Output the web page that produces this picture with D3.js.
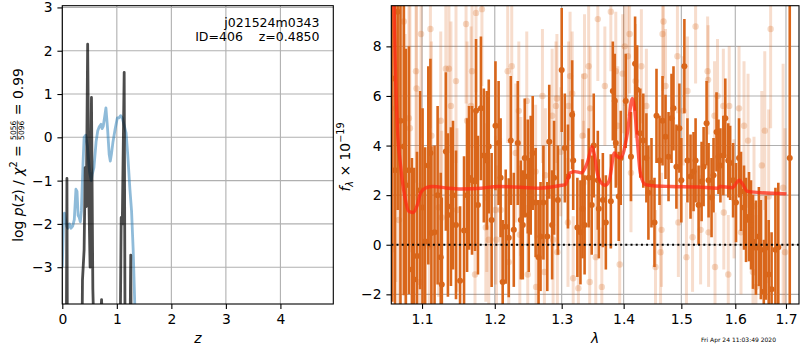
<!DOCTYPE html>
<html>
<head>
<meta charset="utf-8">
<script src="https://cdn.jsdelivr.net/npm/d3@7"></script>
<style>
body { margin: 0; background: #fff; }
svg text { font-family: "DejaVu Sans", sans-serif; white-space: pre; }
</style>
</head>
<body>
<svg id="chart" width="800" height="350"></svg>
<script>
// p(z) panel: [z, value]
const pzChi2 = [
    [0.00, -3.0], [0.02, -2.0], [0.04, -1.75], [0.06, -1.9], [0.08, -2.05], [0.10, -2.1],
    [0.13, -2.0], [0.16, -2.1], [0.19, -2.05], [0.22, -1.9], [0.25, -1.2], [0.27, -1.25],
    [0.29, -1.8], [0.31, -1.85], [0.33, -1.95], [0.35, -1.7], [0.38, -0.6], [0.40, 0.0],
    [0.43, 0.05], [0.46, -0.2], [0.50, -0.8], [0.53, -1.0], [0.55, -0.85], [0.58, -0.7],
    [0.62, -0.1], [0.65, 0.15], [0.68, 0.25], [0.71, 0.3], [0.73, 0.2], [0.75, 0.25],
    [0.78, 0.5], [0.80, 0.68], [0.83, 0.2], [0.86, -0.4], [0.88, -0.55], [0.90, -0.4],
    [0.93, -0.1], [0.97, 0.2], [1.01, 0.45], [1.04, 0.45], [1.07, 0.5], [1.10, 0.45],
    [1.13, 0.3], [1.17, 0.1], [1.20, -0.4], [1.24, -1.2], [1.27, -1.7], [1.30, -2.6], [1.33, -3.9]
];
const pzLog = [
    [0.00, -8], [0.065, -8], [0.085, -0.95], [0.10, -8], [0.34, -8], [0.37, -3.3], [0.40, -2.6],
    [0.42, -0.7], [0.44, -1.6], [0.465, 2.15], [0.49, -1.6], [0.51, -3.0], [0.535, 0.92],
    [0.56, -3.5], [0.58, -4.5], [0.66, -5], [0.72, -3.75], [0.76, -5], [1.04, -8], [1.08, -1.85],
    [1.10, -2.0], [1.135, 1.5], [1.16, -8], [1.22, -8], [1.255, -2.72], [1.28, -8], [4.97, -8]
];
const zTicks = [0, 1, 2, 3, 4];
const pzTicks = [-3, -2, -1, 0, 1, 2, 3];

// spectrum panel
const lamTicks = [1.1, 1.2, 1.3, 1.4, 1.5, 1.6, 1.7];
const fluxTicks = [-2, 0, 2, 4, 6, 8];

// model: [lambda, flux]
const modelLine = [
    [1.0600, 12], [1.0637, 9.8], [1.0654, 7.2], [1.0680, 4.75], [1.0723, 3.15], [1.0775, 1.95],
    [1.0826, 1.35], [1.0882, 1.3], [1.0938, 1.6], [1.0983, 2.1], [1.1057, 2.3], [1.1146, 2.35],
    [1.1348, 2.28], [1.1526, 2.25], [1.1806, 2.28], [1.2048, 2.35], [1.2489, 2.3], [1.2640, 2.28],
    [1.3008, 2.4], [1.3055, 2.42], [1.3133, 2.9], [1.3212, 2.95], [1.3307, 2.9], [1.3403, 3.3],
    [1.3484, 3.95], [1.3520, 3.6], [1.3565, 2.9], [1.3614, 2.55], [1.3696, 2.4], [1.3762, 2.6],
    [1.3845, 3.7], [1.3878, 3.6], [1.3944, 3.5], [1.3994, 3.7], [1.4062, 4.5], [1.4146, 5.9],
    [1.4180, 5.56], [1.4231, 4.2], [1.4282, 2.9], [1.4368, 2.42], [1.4489, 2.38], [1.4805, 2.35],
    [1.5291, 2.33], [1.5662, 2.28], [1.5718, 2.35], [1.5812, 2.33], [1.5947, 2.3], [1.6043, 2.55],
    [1.6081, 2.6], [1.6139, 2.45], [1.6236, 2.15], [1.6490, 2.1], [1.7010, 2.05]
];

// [lambda, flux, error]
const darkPoints = [
    [1.0615, 6.7, 9], [1.0650, 3.0, 9], [1.0684, 9.4, 8], [1.0720, 5.0, 8], [1.0763, 3.96, 6],
    [1.0789, 2.4, 5.5], [1.0829, 3.0, 5], [1.0868, -1.0, 4.5], [1.0895, -1.4, 4.5], [1.0934, -0.45, 4.2],
    [1.0974, 2.2, 4], [1.1007, 1.5, 4], [1.1041, 0.13, 3.8], [1.1083, 3.2, 4], [1.1111, 3.7, 3.8],
    [1.1124, 0.47, 3.5], [1.1166, 0.5, 3.5], [1.1207, 2.0, 3.6], [1.1249, -0.5, 3.4], [1.1263, -1.6, 3.5],
    [1.1318, 3.76, 3.2], [1.1346, 1.2, 3.3], [1.1387, 1.54, 3.2], [1.1415, 2.0, 3.0], [1.1456, 0.8, 3.0],
    [1.1512, -1.45, 3.0], [1.1567, 0.57, 3.0], [1.1609, 2.0, 3.1], [1.1636, 2.7, 2.9], [1.1678, 2.6, 3.0],
    [1.1720, 2.55, 2.8], [1.1734, 5.4, 2.9], [1.1761, 1.6, 2.8], [1.1803, 5.5, 2.9], [1.1844, 3.6, 2.7],
    [1.1886, 3.4, 2.8], [1.1914, 3.96, 2.7], [1.1955, 1.0, 2.7], [1.2010, 4.8, 2.6],
    [1.2055, 4.1, 2.5], [1.2084, 2.7, 2.4], [1.2114, -1.5, 2.5], [1.2158, 0.73, 2.3], [1.2202, 0.28, 2.4],
    [1.2232, 4.2, 2.6], [1.2276, 0.6, 2.3], [1.2335, 4.1, 2.5], [1.2380, 1.0, 2.4], [1.2409, 0.8, 2.2],
    [1.2438, 3.5, 2.4], [1.2483, 2.75, 2.3], [1.2498, 1.2, 2.3], [1.2527, 2.8, 2.4], [1.2557, 3.7, 2.3],
    [1.2601, 1.7, 2.2], [1.2645, -0.5, 2.3], [1.2675, 0.33, 2.2], [1.2719, 1.7, 2.3], [1.2778, 0.33, 2.2],
    [1.2808, 4.15, 2.3], [1.2852, 0.8, 2.2], [1.2882, 2.7, 2.3], [1.2941, 1.8, 2.2], [1.3000, 7.05, 2.5],
    [1.3049, 3.9, 2.2], [1.3098, 2.75, 2.1], [1.3164, 5.24, 2.2], [1.3180, 3.4, 2.0], [1.3246, 0.7, 2.0],
    [1.3295, 0.5, 2.1], [1.3328, 1.45, 2.0], [1.3361, 0.8, 2.0], [1.3426, 2.7, 2.0], [1.3475, 1.6, 2.0],
    [1.3508, 4.0, 2.1], [1.3574, 2.6, 2.0], [1.3590, 1.45, 2.0],
    [1.3656, 1.8, 1.9], [1.3705, 0.9, 1.9], [1.3787, 1.75, 1.9], [1.3820, 6.2, 2.0], [1.3852, 5.8, 1.9],
    [1.3869, 4.1, 1.8], [1.3918, 1.95, 1.8], [1.3951, 3.5, 1.9], [1.4035, 5.8, 1.9], [1.4123, 3.55, 1.8],
    [1.4193, 7.3, 1.9], [1.4228, 6.25, 1.8], [1.4281, 4.5, 1.8], [1.4333, 4.2, 1.9], [1.4386, 3.5, 1.8],
    [1.4421, 2.1, 1.9], [1.4474, 2.5, 1.8], [1.4526, 0.9, 1.8], [1.4561, 5.2, 1.9], [1.4614, 3.4, 1.8],
    [1.4667, 5.0, 1.8], [1.4719, 4.35, 1.7], [1.4772, 3.55, 1.8], [1.4825, 5.1, 1.8], [1.4860, 5.5, 1.7],
    [1.4912, 3.15, 1.7], [1.4965, 4.7, 1.8], [1.5000, 2.6, 1.7], [1.5055, 7.2, 1.9], [1.5110, 3.4, 1.7],
    [1.5166, 2.75, 1.7], [1.5221, 2.95, 1.6], [1.5258, 3.4, 1.7], [1.5313, 1.6, 1.6], [1.5368, 2.55, 1.6],
    [1.5405, 3.15, 1.6], [1.5460, 4.9, 1.7], [1.5497, 2.6, 1.5], [1.5552, 1.9, 1.6], [1.5589, 2.8, 1.5],
    [1.5645, 4.55, 1.6], [1.5681, 3.55, 1.5], [1.5718, 3.2, 1.5], [1.5773, 3.6, 1.6], [1.5810, 5.1, 1.6],
    [1.5866, 3.4, 1.5], [1.5902, 3.3, 1.5], [1.5958, 2.6, 1.5], [1.6014, 1.7, 1.6], [1.6072, 3.5, 1.6],
    [1.6110, 2.15, 1.6], [1.6168, 1.5, 1.7], [1.6207, 1.0, 1.7], [1.6265, 1.13, 1.8], [1.6304, 0.8, 1.8],
    [1.6342, 0.12, 1.9], [1.6400, -0.12, 1.9], [1.6458, 0.33, 2.0], [1.6497, -0.2, 2.0], [1.6555, -1.9, 2.1],
    [1.6594, -0.12, 2.1], [1.6652, -1.2, 2.2], [1.6710, -1.8, 2.3], [1.6787, -0.2, 2.5], [1.6845, -0.1, 2.6],
    [1.7077, 3.5, 7.0]
];
const lightPoints = [
    [1.0600, 3.0, 8], [1.0618, 6.7, 7], [1.0660, 5.5, 7], [1.0700, 1.0, 7], [1.0763, 9.0, 6],
    [1.0780, 2.5, 6], [1.0829, 5.1, 5], [1.0842, 4.7, 5], [1.0921, 7.0, 4.5], [1.0928, 6.3, 4.5],
    [1.0974, -1.5, 4], [1.0987, 8.5, 4.2], [1.1097, -0.08, 4], [1.1111, 8.7, 4], [1.1124, 4.4, 3.8],
    [1.1221, 1.5, 3.6], [1.1249, 5.0, 3.6], [1.1263, 1.1, 3.5], [1.1318, 7.1, 3.5], [1.1360, 7.1, 3.4],
    [1.1387, 5.6, 3.4], [1.1456, 6.6, 3.3], [1.1470, 1.4, 3.3], [1.1595, 8.9, 3.2], [1.1609, 5.0, 3.2],
    [1.1664, 5.6, 3.2], [1.1678, 7.0, 3.1], [1.1720, -1.2, 3.1], [1.1734, 9.35, 3.2], [1.1817, 9.5, 3.1],
    [1.1872, 0.7, 3.0], [1.1886, 1.9, 3.0], [1.1914, 0.2, 3.0], [1.2010, 1.4, 3.0], [1.2025, 0.2, 3.0],
    [1.2084, 1.4, 2.9], [1.2187, 7.0, 2.9], [1.2202, -0.7, 2.9], [1.2246, 7.2, 2.9], [1.2305, 3.7, 2.8],
    [1.2350, 5.4, 2.8], [1.2365, 0.4, 2.8], [1.2380, 2.35, 2.8], [1.2468, 5.8, 2.8], [1.2483, -1.2, 2.8],
    [1.2601, 2.95, 2.7], [1.2608, -1.7, 2.7], [1.2704, 6.0, 2.7], [1.2734, -1.1, 2.7], [1.2749, 2.8, 2.7],
    [1.2852, 5.2, 2.7], [1.2867, 0.2, 2.6], [1.2911, 5.6, 2.6], [1.2926, 5.9, 2.6], [1.2933, -0.3, 2.6],
    [1.2985, 3.75, 2.6], [1.3098, 0.9, 2.6], [1.3107, 5.6, 2.6], [1.3131, 6.8, 2.6], [1.3164, 6.1, 2.5],
    [1.3180, -1.35, 2.5], [1.3262, -1.75, 2.5], [1.3328, 4.4, 2.5], [1.3344, 2.5, 2.5], [1.3360, 6.8, 2.5],
    [1.3426, 7.2, 2.5], [1.3443, -1.5, 2.5], [1.3450, 5.5, 2.5], [1.3541, -0.5, 2.5], [1.3574, 9.1, 2.5],
    [1.3639, -1.7, 2.4], [1.3689, 6.4, 2.4], [1.3787, 9.4, 2.4], [1.3869, 7.0, 2.4], [1.3902, 4.8, 2.4],
    [1.3934, -0.8, 2.4], [1.3984, 6.9, 2.4], [1.4018, 8.0, 2.4], [1.4070, 7.6, 2.4], [1.4100, 8.5, 2.4],
    [1.4123, 2.9, 2.4], [1.4200, 6.6, 2.3], [1.4300, 7.2, 2.3], [1.4386, 5.6, 2.3], [1.4544, -0.9, 2.3],
    [1.4632, -0.3, 2.3], [1.4649, 0.6, 2.3], [1.4667, 8.5, 2.3], [1.4684, 9.0, 2.3], [1.4719, 6.4, 2.3],
    [1.4930, 7.6, 2.3], [1.4947, 0.9, 2.2], [1.5037, 5.4, 2.2], [1.5092, -0.5, 2.2], [1.5110, 6.2, 2.2],
    [1.5203, 0.3, 2.2], [1.5258, 8.8, 2.3], [1.5350, 0.6, 2.2], [1.5479, 7.0, 2.2], [1.5488, 6.65, 2.2],
    [1.5497, 0.5, 2.2], [1.5608, 5.2, 2.2], [1.5617, -0.9, 2.2], [1.5663, 6.0, 2.3], [1.5773, 5.6, 2.3],
    [1.5782, 1.3, 2.3], [1.5866, -1.2, 2.4], [1.5884, 5.6, 2.4], [1.5976, 1.85, 2.4], [1.6072, 5.5, 2.5],
    [1.6110, 0.5, 2.5], [1.6168, 4.8, 2.6], [1.6246, 4.2, 2.7], [1.6342, -1.1, 2.8], [1.6362, 1.55, 2.8],
    [1.6400, -1.7, 2.9], [1.6516, 3.2, 3.0], [1.6574, 4.6, 3.2], [1.6652, 1.95, 3.5], [1.6691, 8.7, 4.0],
    [1.6942, 2.3, 5], [1.6981, -0.3, 5]
];

const svg = d3.select("#chart");
const fs = 13.9;
const gridColor = "#b0b0b0";
const orange = "#d9661a";

// grid lines at the tick positions
function drawGrid(g, x, y, xTicks, yTicks, box) {
    xTicks.forEach(t => g.append("line")
        .attr("x1", x(t)).attr("x2", x(t)).attr("y1", box.top).attr("y2", box.bottom)
        .attr("stroke", gridColor).attr("stroke-width", 1.1));
    yTicks.forEach(t => g.append("line")
        .attr("x1", box.left).attr("x2", box.right).attr("y1", y(t)).attr("y2", y(t))
        .attr("stroke", gridColor).attr("stroke-width", 1.1));
}

function drawAxes(g, x, y, xTicks, yTicks, xFmt, yFmt, box) {
    let ax = g.append("g").attr("transform", "translate(0," + box.bottom + ")")
        .call(d3.axisBottom(x).tickValues(xTicks).tickFormat(xFmt).tickSize(4.9).tickPadding(4.9));
    let ay = g.append("g").attr("transform", "translate(" + box.left + ",0)")
        .call(d3.axisLeft(y).tickValues(yTicks).tickFormat(yFmt).tickSize(4.9).tickPadding(4.9));
    [ax, ay].forEach(a => {
        a.select(".domain").remove();
        a.attr("font-size", fs).attr("font-family", "DejaVu Sans");
        a.selectAll("line").attr("stroke-width", 1.1);
    });
    g.append("rect")
        .attr("x", box.left).attr("y", box.top)
        .attr("width", box.right - box.left).attr("height", box.bottom - box.top)
        .attr("fill", "none").attr("stroke", "#000").attr("stroke-width", 1.1);
}

function addClip(id, box) {
    svg.append("clipPath").attr("id", id).append("rect")
        .attr("x", box.left).attr("y", box.top)
        .attr("width", box.right - box.left).attr("height", box.bottom - box.top);
}

// text pieces laid out one after another, returns end x
function richText(g, parts) {
    let x = 0;
    parts.forEach(p => {
        let t = g.append("text").attr("x", x).attr("y", p.dy || 0)
            .attr("font-size", p.size || fs)
            .attr("font-style", p.it ? "italic" : "normal")
            .text(p.t);
        x += t.node().getComputedTextLength();
    });
    return x;
}

// ---------- left panel: p(z) ----------
const boxL = { left: 62.3, right: 333.3, top: 5.7, bottom: 304 };
const xL = d3.scaleLinear().domain([0, 4.97]).range([boxL.left, boxL.right]);
const yL = d3.scaleLinear().domain([-3.85, 3.04]).range([boxL.bottom, boxL.top]);
const gL = svg.append("g");
addClip("clipL", boxL);
drawGrid(gL, xL, yL, zTicks, pzTicks, boxL);

const lineL = d3.line().x(d => xL(d[0])).y(d => yL(d[1]));
const dataL = gL.append("g").attr("clip-path", "url(#clipL)");
dataL.append("path").datum(pzChi2).attr("d", lineL)
    .attr("fill", "none").attr("stroke", "#1f77b4").attr("stroke-opacity", 0.5)
    .attr("stroke-width", 2.8).attr("stroke-linejoin", "round");
dataL.append("path").datum(pzLog).attr("d", lineL)
    .attr("fill", "none").attr("stroke", "#000").attr("stroke-opacity", 0.7)
    .attr("stroke-width", 2.8).attr("stroke-linejoin", "round");

drawAxes(gL, xL, yL, zTicks, pzTicks, d3.format("d"), d3.format("d"), boxL);

gL.append("text").attr("x", 319.5).attr("y", 26.5).attr("text-anchor", "end")
    .attr("font-size", 12.5).text("j021524m0343");
gL.append("text").attr("x", 319.5).attr("y", 41).attr("text-anchor", "end")
    .attr("font-size", 12.5).text("ID=406    z=0.4850");
gL.append("text").attr("x", (boxL.left + boxL.right) / 2).attr("y", 343)
    .attr("text-anchor", "middle").attr("font-size", fs).attr("font-style", "italic").text("z");

// y label with fraction
const labL = svg.append("g").attr("transform", "translate(22.5,155) rotate(-90)");
const labLi = labL.append("g");
let xx = richText(labLi, [
    { t: "log " }, { t: "p", it: true }, { t: "(" }, { t: "z", it: true }, { t: ") / " },
    { t: "χ", it: true }, { t: "2", size: 9.7, dy: -6 }, { t: " = " }
]);
const fracG = labLi.append("g").attr("transform", "translate(" + (xx + 1) + ",0)");
const num = fracG.append("text").attr("y", -6.8).attr("font-size", 7.6).text("5056");
const den = fracG.append("text").attr("y", 1.6).attr("font-size", 7.6).text("5096");
const fw = Math.max(num.node().getComputedTextLength(), den.node().getComputedTextLength());
fracG.append("line").attr("x1", 0).attr("x2", fw).attr("y1", -5.2).attr("y2", -5.2)
    .attr("stroke", "#000").attr("stroke-width", 0.7);
const tail = labLi.append("g").attr("transform", "translate(" + (xx + fw + 2) + ",0)");
const tw = richText(tail, [{ t: " = 0.99" }]);
labLi.attr("transform", "translate(" + (-(xx + fw + 2 + tw) / 2) + ",0)");

// ---------- right panel: spectrum ----------
const boxR = { left: 391.3, right: 799, top: 5.7, bottom: 304 };
const xR = d3.scaleLog().domain([1.0603, 1.7267]).range([boxR.left, boxR.right]);
const yR = d3.scaleLinear().domain([-2.39, 9.64]).range([boxR.bottom, boxR.top]);
const gR = svg.append("g");
addClip("clipR", boxR);
drawGrid(gR, xR, yR, lamTicks, fluxTicks, boxR);

const dataR = gR.append("g").attr("clip-path", "url(#clipR)");

// faint spectrum
const light = dataR.append("g");
light.selectAll("line").data(lightPoints).join("line")
    .attr("x1", d => xR(d[0])).attr("x2", d => xR(d[0]))
    .attr("y1", d => yR(d[1] - d[2])).attr("y2", d => yR(d[1] + d[2]))
    .attr("stroke", orange).attr("stroke-opacity", 0.22).attr("stroke-width", 3);
light.selectAll("circle").data(lightPoints).join("circle")
    .attr("cx", d => xR(d[0])).attr("cy", d => yR(d[1])).attr("r", 3.2)
    .attr("fill", orange).attr("fill-opacity", 0.25);

// main spectrum
const dark = dataR.append("g");
dark.selectAll("line").data(darkPoints).join("line")
    .attr("x1", d => xR(d[0])).attr("x2", d => xR(d[0]))
    .attr("y1", d => yR(d[1] - d[2])).attr("y2", d => yR(d[1] + d[2]))
    .attr("stroke", orange).attr("stroke-width", 2.6);
dark.selectAll("circle").data(darkPoints).join("circle")
    .attr("cx", d => xR(d[0])).attr("cy", d => yR(d[1])).attr("r", 3)
    .attr("fill", orange);

// model
dataR.append("path").datum(modelLine)
    .attr("d", d3.line().curve(d3.curveMonotoneX).x(d => xR(d[0])).y(d => yR(d[1])))
    .attr("fill", "none").attr("stroke", "#ff2a14").attr("stroke-opacity", 0.75)
    .attr("stroke-width", 3.4).attr("stroke-linejoin", "round");

// zero line
dataR.append("line")
    .attr("x1", boxR.left).attr("x2", boxR.right).attr("y1", yR(0)).attr("y2", yR(0))
    .attr("stroke", "#000").attr("stroke-width", 2).attr("stroke-dasharray", "2,3.2");

drawAxes(gR, xR, yR, lamTicks, fluxTicks, d3.format(".1f"), d3.format("d"), boxR);

gR.append("text").attr("x", 595).attr("y", 343).attr("text-anchor", "middle")
    .attr("font-size", fs).attr("font-style", "italic").text("λ");

const labR = svg.append("g").attr("transform", "translate(350,157) rotate(-90)");
const labRi = labR.append("g");
const rw = richText(labRi, [
    { t: "f", it: true }, { t: "λ", it: true, size: 9.7, dy: 3 }, { t: " × 10" },
    { t: "−19", size: 9.7, dy: -6 }
]);
labRi.attr("transform", "translate(" + (-rw / 2) + ",0)");

svg.append("text").attr("x", 701).attr("y", 341.5).attr("font-size", 6)
    .text("Fri Apr 24 11:03:49 2020");
</script>
</body>
</html>
